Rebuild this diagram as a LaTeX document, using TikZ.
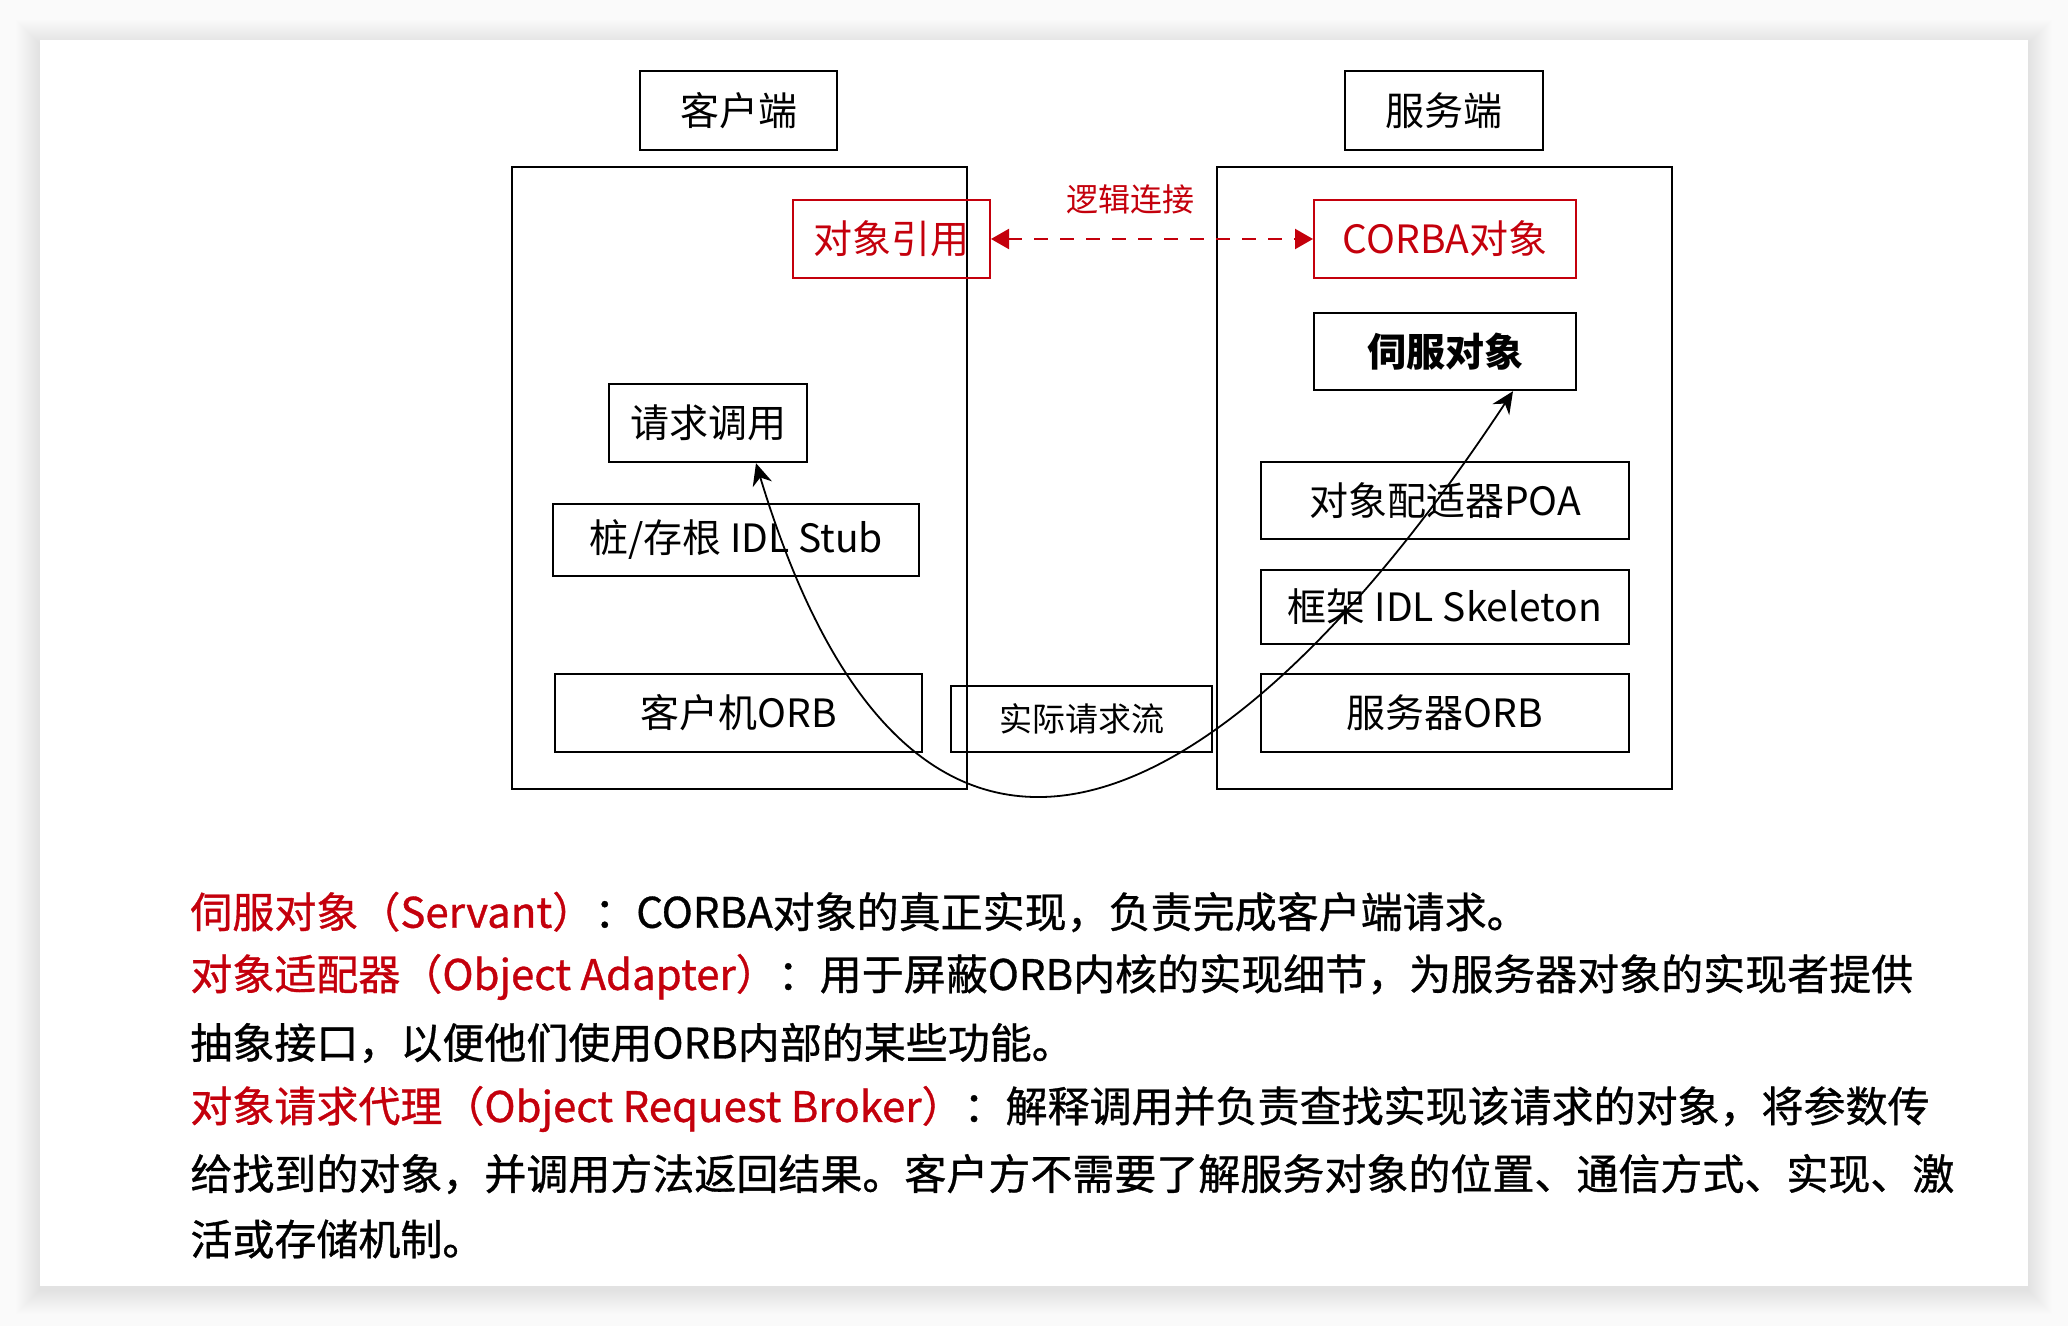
\documentclass[tikz,border=0pt]{standalone}
\usepackage{fontspec}
\setmainfont{Noto Sans CJK SC}
\newfontfamily\descfont[FakeBold=0.8]{Noto Sans CJK SC}
\usetikzlibrary{arrows.meta}
\definecolor{cred}{RGB}{196,0,12}
\definecolor{cbg}{RGB}{250,250,250}
\tikzset{
  box/.style={draw=black, line width=1.2pt, inner sep=0pt, font=\fontsize{19.5pt}{22pt}\selectfont},
  redbox/.style={draw=cred, line width=1pt, inner sep=0pt, text=cred, font=\fontsize{19.5pt}{22pt}\selectfont},
  bigbox/.style={draw=black, line width=1pt, inner sep=0pt},
  desc/.style={anchor=west, inner sep=0pt, font=\descfont\fontsize{21pt}{25pt}\selectfont},
  flow/.style={line width=0.9pt, {Stealth[length=11pt,width=10pt]}-{Stealth[length=11pt,width=10pt]}},
  logic/.style={draw=cred, line width=1.1pt, dash pattern=on 7pt off 6pt, {Triangle[length=9pt,width=10pt]}-{Triangle[length=9pt,width=10pt]}}
}
\begin{document}
\begin{tikzpicture}[x=0.5pt,y=-0.5pt]
\useasboundingbox (0,0) rectangle (2068,1326);
\fill[cbg] (0,0) rectangle (2068,1326);
% shadow
\foreach \i in {1,...,24}{
  \fill[black, opacity=0.005] (40-\i,40-\i+4) rectangle (2028+\i,1286+\i+4);
}
\fill[white] (40,40) rectangle (2028,1286);

% headers
\node[box, minimum width=98.5pt, minimum height=39.5pt] (client) at (738.5,110.5) {客户端};
\node[box, minimum width=99pt, minimum height=39.5pt] (server) at (1444,110.5) {服务端};

% big containers
\node[bigbox, minimum width=227.5pt, minimum height=311pt] (cbox) at (739.5,478) {};
\node[bigbox, minimum width=227.5pt, minimum height=311pt] (sbox) at (1444.5,478) {};

% red boxes
\node[redbox, minimum width=98.5pt, minimum height=39pt] (ref) at (891.5,239) {对象引用};
\node[redbox, minimum width=131pt, minimum height=39pt] (corba) at (1445,239) {CORBA对象};
\node[text=cred, inner sep=0pt, font=\fontsize{16pt}{18pt}\selectfont] (logic) at (1130,199) {逻辑连接};
\draw[logic] (ref.east) -- (corba.west);

% server side
\node[box, minimum width=131pt, minimum height=38.5pt, font=\bfseries\fontsize{19.5pt}{22pt}\selectfont] (servant) at (1445,351.5) {伺服对象};
\node[box, minimum width=184pt, minimum height=38.5pt] (poa) at (1445,500.5) {对象配适器POA};
\node[box, minimum width=184pt, minimum height=37pt] (skel) at (1445,607) {框架 IDL Skeleton};
\node[box, minimum width=184pt, minimum height=39pt] (sorb) at (1445,713) {服务器ORB};

% client side
\node[box, minimum width=99pt, minimum height=39pt] (req) at (708,423) {请求调用};
\node[box, minimum width=183pt, minimum height=36pt] (stub) at (736,540) {桩/存根 IDL Stub};
\node[box, minimum width=183.5pt, minimum height=39pt] (corb) at (738.5,713) {客户机ORB};

% middle
\node[box, line width=1pt, minimum width=130.5pt, minimum height=33pt, font=\fontsize{16.5pt}{18pt}\selectfont] (flowlbl) at (1081.5,719) {实际请求流};

% request flow curve
\coordinate (fs) at ([xshift=24pt]req.south);
\coordinate (fe) at ([xshift=34pt]servant.south);
\draw[flow] (fs) .. controls (916,992) and (1227,825) .. (fe);

% description
\node[desc] (d1) at (190,912) {\textcolor{cred}{伺服对象（Servant）}：CORBA对象的真正实现，负责完成客户端请求。};
\node[desc] (d2) at (190,977) {\textcolor{cred}{对象适配器（Object Adapter）}：用于屏蔽ORB内核的实现细节，为服务器对象的实现者提供};
\node[desc] (d3) at (190,1043) {抽象接口，以便他们使用ORB内部的某些功能。};
\node[desc] (d4) at (190,1109) {\textcolor{cred}{对象请求代理（Object Request Broker）}：解释调用并负责查找实现该请求的对象，将参数传};
\node[desc] (d5) at (190,1174) {给找到的对象，并调用方法返回结果。客户方不需要了解服务对象的位置、通信方式、实现、激};
\node[desc] (d6) at (190,1239) {活或存储机制。};
\end{tikzpicture}
\end{document}
